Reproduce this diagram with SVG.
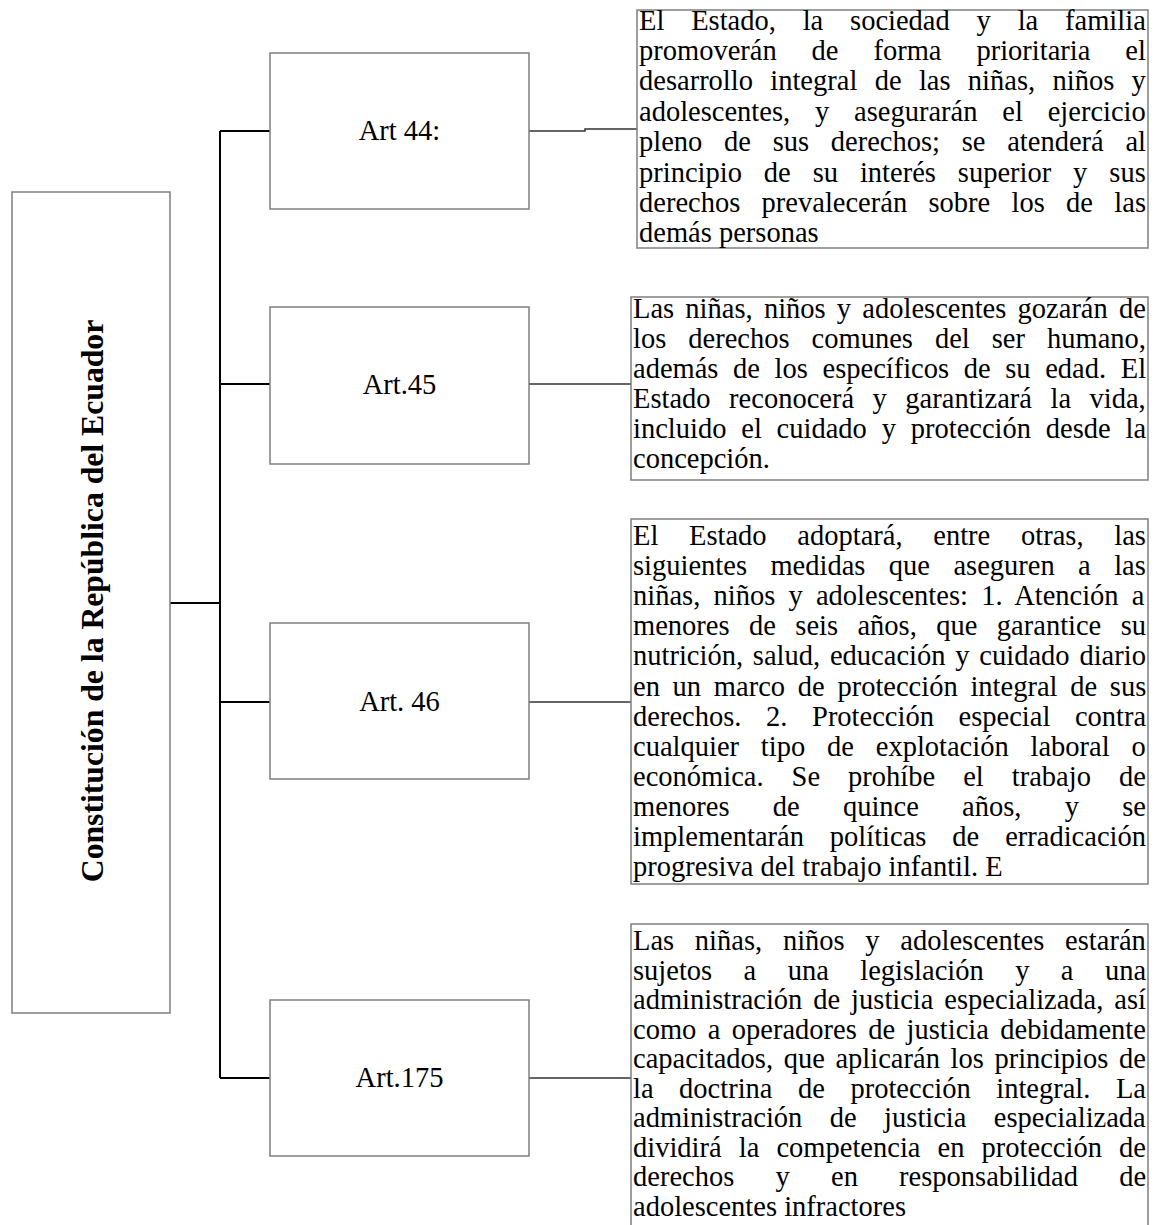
<svg xmlns="http://www.w3.org/2000/svg" width="1162" height="1225" viewBox="0 0 1162 1225">
<style>
.box{fill:#fff;stroke:#7f7f7f;stroke-width:1.5}
.trunk{fill:none;stroke:#000;stroke-width:2}
.rc{fill:none;stroke:#333;stroke-width:1.5}
.t{font-family:"Liberation Serif","Times New Roman",serif;font-size:28.5px;fill:#000}
.lbl{font-family:"Liberation Serif","Times New Roman",serif;font-size:28.5px;fill:#000;text-anchor:middle}
.main{font-family:"Liberation Serif","Times New Roman",serif;font-size:31.7px;font-weight:bold;fill:#000;text-anchor:middle}
</style>
<rect width="1162" height="1225" fill="#fff"/>
<g id="connectors">
<path class="trunk" d="M170 603H220M220 131V1078M220 131H270M220 384H270M220 702H270M220 1078H270"/>
<path class="rc" d="M529 131H585V129H637M529 384H631M529 702H631M529 1078H631"/>
</g>
<g id="constitucion">
<rect class="box" x="12" y="192" width="158" height="821"/>
<text class="main" transform="translate(103 601) rotate(-90)">Constitución de la República del Ecuador</text>
</g>
<g id="art44">
<rect class="box" x="270" y="53" width="259" height="156"/>
<text class="lbl" x="399.5" y="140">Art 44:</text>
</g>
<g id="art45">
<rect class="box" x="270" y="307" width="259" height="157"/>
<text class="lbl" x="399.5" y="394">Art.45</text>
</g>
<g id="art46">
<rect class="box" x="270" y="623" width="259" height="156"/>
<text class="lbl" x="399.5" y="711">Art. 46</text>
</g>
<g id="art175">
<rect class="box" x="270" y="1000" width="259" height="156"/>
<text class="lbl" x="399.5" y="1087">Art.175</text>
</g>
<g id="texto44">
<rect class="box" x="637" y="10" width="511" height="238"/>
<text class="t" x="639" y="29.5" word-spacing="19.7">El Estado, la sociedad y la familia</text>
<text class="t" x="639" y="59.9" word-spacing="27.8">promoverán de forma prioritaria el</text>
<text class="t" x="639" y="90.3" word-spacing="10.2">desarrollo integral de las niñas, niños y</text>
<text class="t" x="639" y="120.7" word-spacing="17.7">adolescentes, y asegurarán el ejercicio</text>
<text class="t" x="639" y="151.1" word-spacing="14.6">pleno de sus derechos; se atenderá al</text>
<text class="t" x="639" y="181.5" word-spacing="14.8">principio de su interés superior y sus</text>
<text class="t" x="639" y="211.9" word-spacing="14.2">derechos prevalecerán sobre los de las</text>
<text class="t" x="639" y="242.3">demás personas</text>
</g>
<g id="texto45">
<rect class="box" x="631" y="297" width="517" height="183"/>
<text class="t" x="633" y="318" word-spacing="4.1">Las niñas, niños y adolescentes gozarán de</text>
<text class="t" x="633" y="348" word-spacing="14.9">los derechos comunes del ser humano,</text>
<text class="t" x="633" y="378" word-spacing="7.5">además de los específicos de su edad. El</text>
<text class="t" x="633" y="408" word-spacing="11.4">Estado reconocerá y garantizará la vida,</text>
<text class="t" x="633" y="438" word-spacing="7.7">incluido el cuidado y protección desde la</text>
<text class="t" x="633" y="468">concepción.</text>
</g>
<g id="texto46">
<rect class="box" x="631" y="519" width="517" height="365"/>
<text class="t" x="633" y="545" word-spacing="23.6">El Estado adoptará, entre otras, las</text>
<text class="t" x="633" y="575.1" word-spacing="16.3">siguientes medidas que aseguren a las</text>
<text class="t" x="633" y="605.2" word-spacing="6.1">niñas, niños y adolescentes: 1. Atención a</text>
<text class="t" x="633" y="635.3" word-spacing="12.3">menores de seis años, que garantice su</text>
<text class="t" x="633" y="665.4" word-spacing="2.7">nutrición, salud, educación y cuidado diario</text>
<text class="t" x="633" y="695.5" word-spacing="5.6">en un marco de protección integral de sus</text>
<text class="t" x="633" y="725.6" word-spacing="17.5">derechos. 2. Protección especial contra</text>
<text class="t" x="633" y="755.7" word-spacing="14.7">cualquier tipo de explotación laboral o</text>
<text class="t" x="633" y="785.8" word-spacing="20.9">económica. Se prohíbe el trabajo de</text>
<text class="t" x="633" y="815.9" word-spacing="36.1">menores de quince años, y se</text>
<text class="t" x="633" y="846" word-spacing="18.8">implementarán políticas de erradicación</text>
<text class="t" x="633" y="876.1">progresiva del trabajo infantil. E</text>
</g>
<g id="texto175">
<rect class="box" x="631" y="924" width="517" height="320"/>
<text class="t" x="633" y="950" word-spacing="13.6">Las niñas, niños y adolescentes estarán</text>
<text class="t" x="633" y="979.5" word-spacing="24.3">sujetos a una legislación y a una</text>
<text class="t" x="633" y="1009" word-spacing="3.8">administración de justicia especializada, así</text>
<text class="t" x="633" y="1038.5" word-spacing="4.3">como a operadores de justicia debidamente</text>
<text class="t" x="633" y="1068" word-spacing="3.5">capacitados, que aplicarán los principios de</text>
<text class="t" x="633" y="1097.5" word-spacing="18.4">la doctrina de protección integral. La</text>
<text class="t" x="633" y="1127" word-spacing="20.3">administración de justicia especializada</text>
<text class="t" x="633" y="1156.5" word-spacing="10">dividirá la competencia en protección de</text>
<text class="t" x="633" y="1186" word-spacing="34.1">derechos y en responsabilidad de</text>
<text class="t" x="633" y="1215.5">adolescentes infractores</text>
</g>
</svg>
